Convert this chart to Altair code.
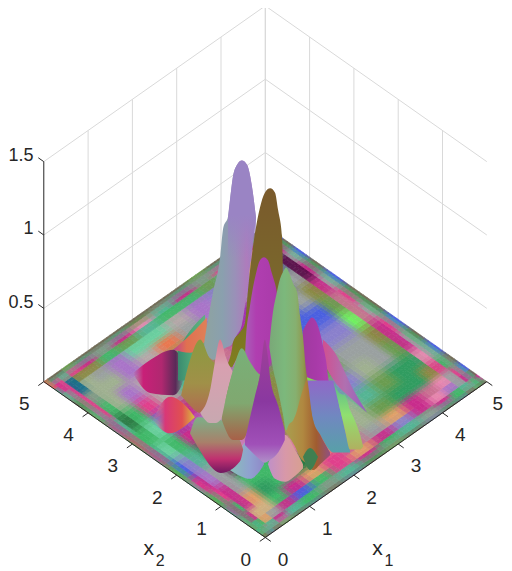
import altair as alt
import pandas as pd
import numpy as np

# ---------- axes ----------
x_ticks = [0, 1, 2, 3, 4, 5]
z_ticks = [0.5, 1, 1.5]
z_labels = ["0.5", "1", "1.5"]

# ---------- floor of the surface: non-uniform grid nodes and their colour codes ----------
nodes = [.025, .085, .17, .3, .5, .785, 1.15, 1.575, 2.025, 2.5, 2.975, 3.425, 3.85, 4.215, 4.5, 4.7, 4.83, 4.915, 4.975]
palette = dict(a="#6f6a55", b="#7f9a86", c="#e0408c", d="#55b494", e="#6a9c50", f="#8a8a45", g="#a974c8",
               h="#8a80cc", i="#c87090", j="#40b868", k="#c82c8c", l="#e87850", m="#9fb090", n="#4a60e0",
               o="#7fdc50", p="#7f30a8", q="#b4a8a8", r="#309c60", s="#e0a068", t="#a030b0", u="#58a0c0",
               v="#146c8c", w="#580c48", x="#9aa0a0", y="#70f060", z="#d0b080", A="#6cd0a0", B="#687890",
               C="#e888b0", D="#2c7a44")
floor_rows = [
    "aaBaeaBaBaeaBaBaeaa", "ebdbxdjbdjbdxdjbdjb", "djbdkdjbdkjdbkjdbjk", "edjsxknjcskhkCgxkda",
    "bjkzzjkscixskiCxcdn", "dkjksrjDsimerrfcjba", "ejckxjjiCfmderrCxdn", "dckgxwCiffdhmxekxja",
    "ejnhdDgiffoexxfkcdn", "bkdAjkgqefeohhyixja", "ecjjAnkffgtknneicja", "bkdDjcqdfitknxfkxdn",
    "edcjmgqkjfttxBxwkja", "ajcbmmgqlxgqgxBwxdn", "bdcvmxgAAqghgszBkja", "dkcvffjedjjedgCwxdn",
    "lkcbckbkCdkbcCkdCkc", "ldbdbdbdebdbdbdbdsd", "laaaeaaaaaaeaaaaaaa",
]

# ---------- surface ridges: u = x1 - x2, top / bottom of visible silhouette in view height ----------
patch_u = [-2.99, -2.60, -2.08, -1.93, -1.81]
patch_t = [1.12, 1.21, 1.28, 1.24, 1.11]
patch_b = [1.12, .985, .97, 1.01, 1.11]
teal_u = [-1.97, -1.70, -1.36]
teal_t = [1.28, 1.41, 1.52]
teal_b = [1.07, 1.07, 1.35]
orange_u = [-2.08, -1.70, -1.32]
orange_t = [1.28, 1.38, 1.50]
orange_b = [1.28, 1.26, 1.35]
band_u = [-2.55, -2.15, -1.77, -1.59]
band_t = [.80, .96, .89, .82]
band_b = [.80, .71, .77, .82]
rose_u = [1.30, 1.55, 2.0, 2.3]
rose_t = [1.35, 1.27, 1.0, .85]
rose_b = [1.2, 1.07, .93, .85]
lilac_u = [-1.38, -1.32, -1.18, -1.02, -.95, -.84, -.77, -.73, -.64, -.53, -.41, -.30, -.21]
lilac_t = [1.33, 1.44, 1.67, 1.91, 2.11, 2.19, 2.37, 2.46, 2.54, 2.57, 2.54, 2.39, 2.18]
lilac_b = [1.28, 1.25, 1.21, 1.24, 1.28, 1.30, 1.31, 1.33, 1.38, 1.45, 1.69, 1.96, 2.18]
cap_u = [-.84, -.77, -.73, -.64, -.53, -.41, -.30, -.21]
cap_t = [2.19, 2.37, 2.46, 2.54, 2.57, 2.54, 2.39, 2.18]
cap_b = [1.9, 1.9, 1.9, 1.9, 1.9, 1.9, 1.9, 1.9]
brown_u = [-.84, -.75, -.73, -.57, -.46, -.39, -.23, -.12, -.01, .11, .22, .29, .38, .40]
brown_t = [1.19, 1.29, 1.33, 1.40, 1.46, 1.69, 2.08, 2.25, 2.35, 2.38, 2.35, 2.23, 2.05, 1.73]
brown_b = [1.18, 1.16, 1.17, 1.24, 1.18, 1.18, 1.15, 1.15, 1.20, 1.30, 1.40, 1.50, 1.60, 1.70]
mag_u = [-.46, -.44, -.35, -.21, -.12, -.03, .06, .15, .26, .38]
mag_t = [1.23, 1.35, 1.57, 1.80, 1.89, 1.91, 1.89, 1.80, 1.67, 1.35]
mag_b = [1.20, 1.18, 1.14, 1.12, 1.11, 1.12, 1.15, 1.20, 1.25, 1.30]
rmag_u = [.85, .96, 1.05, 1.15, 1.24, 1.30, 1.37, 1.42, 1.44]
rmag_t = [1.41, 1.47, 1.50, 1.47, 1.39, 1.31, 1.21, 1.09, 1.05]
rmag_b = [1.10, 1.09, 1.08, 1.07, 1.06, 1.05, 1.05, 1.05, 1.05]
blue_u = [.94, 1.08, 1.24, 1.44, 1.53, 1.69, 1.80, 1.91]
blue_t = [1.07, 1.07, 1.07, 1.07, 1.07, .87, .73, .60]
blue_b = [1.04, .80, .70, .60, .58, .58, .58, .58]
lime_u = [1.53, 1.69, 1.80, 1.91, 2.02, 2.14, 2.21]
lime_t = [1.07, .98, .97, .87, .80, .70, .62]
lime_b = [1.07, .87, .73, .60, .60, .60, .62]
tan_u = [.44, .67, .78, .94, 1.08, 1.24, 1.46]
tan_t = [.77, 1.14, 1.21, 1.09, .80, .70, .58]
tan_b = [.73, .62, .55, .50, .46, .50, .56]
notch_u = [.85, 1.01, 1.19]
notch_t = [.55, .61, .55]
notch_b = [.55, .46, .55]
green_u = [.09, .11, .17, .26, .33, .40, .47, .53, .63, .72, .78, .85, .92, .94]
green_t = [1.30, 1.37, 1.53, 1.67, 1.76, 1.81, 1.84, 1.81, 1.73, 1.67, 1.52, 1.37, 1.14, 1.09]
green_b = [1.30, 1.26, 1.155, 1.04, .94, .835, .73, .77, .80, .87, .94, 1.01, 1.07, 1.09]
olive_u = [-1.90, -1.70, -1.47, -1.25, -1.14]
olive_t = [.97, 1.21, 1.35, 1.22, 1.19]
olive_b = [.97, .90, .85, .97, 1.19]
pink_u = [-1.47, -1.25, -1.14, -1.02, -.98, -.89, -.73]
pink_t = [.85, 1.00, 1.19, 1.35, 1.33, 1.23, 1.13]
pink_b = [.85, .78, .78, .80, .82, .95, 1.13]
low_u = [-1.70, -1.53, -1.0, -.57, -.50]
low_t = [.71, .82, .80, .66, .60]
low_b = [.71, .62, .44, .52, .60]
sage_u = [-.98, -.73, -.53, -.35, -.16, -.12]
sage_t = [.82, 1.14, 1.29, 1.20, 1.12, 1.11]
sage_b = [.80, .665, .665, .77, 1.05, 1.11]
lobe_l_u = [-.80, -.57, -.35, -.16, -.03]
lobe_l_t = [.46, .60, .67, .62, .52]
lobe_l_b = [.46, .42, .40, .44, .50]
lobe_r_u = [.06, .22, .44, .67, .85]
lobe_r_t = [.50, .62, .70, .60, .50]
lobe_r_b = [.50, .40, .38, .42, .47]
violet_u = [-.46, -.23, -.12, -.01, .06, .11, .29, .44]
violet_t = [.665, .97, 1.11, 1.35, 1.23, 1.09, .90, .73]
violet_b = [.63, .56, .53, .51, .52, .53, .58, .665]

GRID = "#d9d9d9"
INK = "#262626"
FONT = "Liberation Sans"
DEPTH = 0.2124   # view height gained per unit of x1 + x2

x_enc = alt.X("u:Q", axis=None, scale=alt.Scale(domain=[-5.808, 5.388], nice=False, zero=False))
y_enc = alt.Y("v:Q", axis=None, scale=alt.Scale(domain=[-0.2011, 3.6094], nice=False, zero=False))


def view(x1, x2, z=0.0):
    return x1 - x2, DEPTH * (x1 + x2) + z


def polyline(segments, color, width=1.0):
    rows = []
    for i, seg in enumerate(segments):
        for k, p in enumerate(seg):
            u, v = view(*p)
            rows.append(dict(u=u, v=v, s=i, k=k))
    return alt.Chart(pd.DataFrame(rows)).mark_line(color=color, strokeWidth=width).encode(
        x=x_enc, y=y_enc, detail="s:N", order="k:Q")


def grad(stops, horizontal=True):
    return alt.Gradient(gradient="linear",
                        stops=[alt.GradientStop(color=c, offset=o) for o, c in stops],
                        x1=0, x2=1 if horizontal else 0, y1=0, y2=0 if horizontal else 1)


def ridge(u, t, b, stops, horizontal=True):
    df = pd.DataFrame(dict(u=u, v=t, w=b))
    return alt.Chart(df).mark_area(color=grad(stops, horizontal), interpolate="monotone").encode(
        x=x_enc, y=y_enc, y2=alt.Y2("w:Q"))


def rgb(code):
    h = palette[code][1:]
    return np.array([int(h[i:i + 2], 16) for i in (0, 2, 4)], dtype=float)


def floor():
    # Face shading between the read node colours: a plateau round each node, a soft edge between.
    pos = [0.0] + nodes + [5.0]
    grid = [[rgb(c) for c in r] for r in floor_rows]
    n = len(nodes)
    rows = []

    def steps(d):
        return 1 if d < .1 else 2 if d < .25 else 5

    def ease(f):
        return min(max((f - .2) / .6, 0.0), 1.0)

    for j in range(n + 1):
        jlo, jhi = max(j - 1, 0), min(j, n - 1)
        c, d = pos[j], pos[j + 1]
        nj = steps(d - c)
        for i in range(n + 1):
            ilo, ihi = max(i - 1, 0), min(i, n - 1)
            a, b = pos[i], pos[i + 1]
            ni = steps(b - a)
            for sj in range(nj):
                for si in range(ni):
                    fi, fj = ease((si + .5) / ni), ease((sj + .5) / nj)
                    col = ((1 - fi) * (1 - fj) * grid[jlo][ilo] + fi * (1 - fj) * grid[jlo][ihi]
                           + (1 - fi) * fj * grid[jhi][ilo] + fi * fj * grid[jhi][ihi])
                    hexc = "#%02x%02x%02x" % tuple(int(round(x)) for x in col)
                    a0, b0 = a + (b - a) * si / ni, a + (b - a) * (si + 1) / ni
                    c0, d0 = c + (d - c) * sj / nj, c + (d - c) * (sj + 1) / nj
                    left, top, bottom, right = view(a0, d0), view(b0, d0), view(a0, c0), view(b0, c0)
                    us = sorted({round(p[0], 4) for p in (left, top, bottom, right)})
                    hi = np.interp(us, [left[0], top[0], right[0]], [left[1], top[1], right[1]])
                    lo = np.interp(us, [left[0], bottom[0], right[0]], [left[1], bottom[1], right[1]])
                    for uu, h, l in zip(us, hi, lo):
                        rows.append(dict(u=round(uu, 4), v=round(h, 4), w=round(l, 4),
                                         cell=f"{i}_{j}_{si}_{sj}", c=hexc))
    return alt.Chart(alt.Data(values=rows)).mark_area(strokeWidth=0.7).encode(
        x=x_enc, y=y_enc, y2=alt.Y2("w:Q"), detail="cell:N",
        fill=alt.Fill("c:N", scale=None), stroke=alt.Stroke("c:N", scale=None))


def text(rows, size=19, align="center"):
    return alt.Chart(pd.DataFrame(rows)).mark_text(
        font=FONT, fontSize=size, color=INK, align=align, baseline="middle").encode(
        x=x_enc, y=y_enc, text="t:N")


layers = []
# walls
walls = []
for t in x_ticks[1:]:
    walls.append([(t, 5, 0), (t, 5, 1.5)])
    walls.append([(5, t, 0), (5, t, 1.5)])
for z in z_ticks:
    walls.append([(0, 5, z), (5, 5, z), (5, 0, z)])
layers.append(polyline(walls, GRID))
# surface
layers.append(floor())
layers.append(ridge(patch_u, patch_t, patch_b, [(0, "#c8207800"), (.2, "#c82078"), (.55, "#b02870"), (.82, "#5a2a58"), (1, "#6a305800")]))
layers.append(ridge(teal_u, teal_t, teal_b, [(0, "#3a8a70"), (.5, "#50a878"), (1, "#60b080")]))
layers.append(ridge(orange_u, orange_t, orange_b, [(0, "#c04090"), (.4, "#e07050"), (1, "#e08058")]))
layers.append(ridge(band_u, band_t, band_b, [(0, "#c8a0a000"), (.3, "#d83878"), (.7, "#e05050"), (1, "#d8c040")]))
layers.append(ridge(rose_u, rose_t, rose_b, [(0, "#d05090"), (.5, "#b070b0"), (1, "#9060c0")]))
layers.append(ridge(lilac_u, lilac_t, lilac_b, [(0, "#8fa3a0"), (.35, "#8aa0ae"), (.6, "#9a90b8"), (.82, "#ae7cbc"), (1, "#9a80c0")]))
layers.append(ridge(cap_u, cap_t, cap_b, [(0, "#9a84c4"), (.55, "#9a84c4"), (1, "#9a84c400")], horizontal=False))
layers.append(ridge(brown_u, brown_t, brown_b, [(0, "#7a5a2c"), (.6, "#7a6a2c"), (.85, "#7d7820"), (1, "#80801e")], horizontal=False))
layers.append(ridge(mag_u, mag_t, mag_b, [(0, "#a860b8"), (.3, "#b03eb0"), (1, "#a83aa8")]))
layers.append(ridge(rmag_u, rmag_t, rmag_b, [(0, "#a03aa0"), (.5, "#a83aa8"), (1, "#b040b0")]))
layers.append(ridge(blue_u, blue_t, blue_b, [(0, "#9068c8"), (.5, "#7088c0"), (1, "#58a0a8")], horizontal=False))
layers.append(ridge(lime_u, lime_t, lime_b, [(0, "#55b890"), (.5, "#90e070"), (1, "#b0b060")], horizontal=False))
layers.append(ridge(lobe_l_u, lobe_l_t, lobe_l_b, [(0, "#88c0b8"), (.6, "#90a0d0"), (1, "#9088c8")]))
layers.append(ridge(lobe_r_u, lobe_r_t, lobe_r_b, [(0, "#c090c8"), (.5, "#d898a8"), (1, "#d8a090")]))
layers.append(ridge(tan_u, tan_t, tan_b, [(0, "#a8a050"), (.4, "#b08840"), (.7, "#a05c30"), (1, "#905080")]))
layers.append(ridge(notch_u, notch_t, notch_b, [(0, "#3f7f50"), (1, "#3f7f50")]))
layers.append(ridge(green_u, green_t, green_b, [(0, "#7aa878"), (.4, "#7cb87c"), (.7, "#86b070"), (.9, "#8f9a50"), (1, "#8a8040")]))
layers.append(ridge(low_u, low_t, low_b, [(0, "#7cb088"), (.45, "#a8806a"), (.75, "#c03070"), (1, "#701860")], horizontal=False))
layers.append(ridge(olive_u, olive_t, olive_b, [(0, "#8a9a40"), (.6, "#a09048"), (1, "#b06a50")], horizontal=False))
layers.append(ridge(pink_u, pink_t, pink_b, [(0, "#d87a90"), (.3, "#d8a0b0"), (1, "#c8a8b0")], horizontal=False))
layers.append(ridge(sage_u, sage_t, sage_b, [(0, "#78b078"), (.6, "#80a870"), (1, "#a86048")], horizontal=False))
layers.append(ridge(violet_u, violet_t, violet_b, [(0, "#a04098"), (.5, "#8a38a0"), (.85, "#a050b8"), (1, "#b090c8")], horizontal=False))

# axis lines and ticks
axes = [[(0, 5, 0), (0, 0, 0), (5, 0, 0)], [(0, 5, 0), (0, 5, 1.5)]]
for t in x_ticks:
    axes.append([(0, t, 0), (-.124, t, 0)])
    axes.append([(t, 0, 0), (t, -.124, 0)])
for z in z_ticks:
    axes.append([(0, 5, z), (0, 5.124, z)])
layers.append(polyline(axes, INK))

# tick labels (the last one is held inside the drawing width)
lab = []
for t in x_ticks:
    u, v = view(0, t)
    lab.append(dict(u=u - .44, v=v - .153, t=str(t)))
    u, v = view(t, 0)
    lab.append(dict(u=min(u + .40, 5.25), v=v - .153, t=str(t)))
layers.append(text(lab))
zl = []
for z, s in zip(z_ticks, z_labels):
    u, v = view(0, 5, z)
    zl.append(dict(u=u - .23, v=v + .039, t=s))
layers.append(text(zl, size=18, align="right"))
# axis names with subscripts
layers.append(text([dict(u=-2.63, v=-.075, t="x"), dict(u=2.53, v=-.075, t="x")], size=21))
layers.append(text([dict(u=-2.37, v=-.16, t="2"), dict(u=2.79, v=-.16, t="1")], size=16))

chart = alt.layer(*layers).properties(
    width=496, height=559, padding=0, autosize=alt.AutoSizeParams(type="none")
).configure_view(stroke=None).resolve_scale(x="shared", y="shared")

chart.save("out.html", embed_options={"renderer": "svg", "actions": False})
